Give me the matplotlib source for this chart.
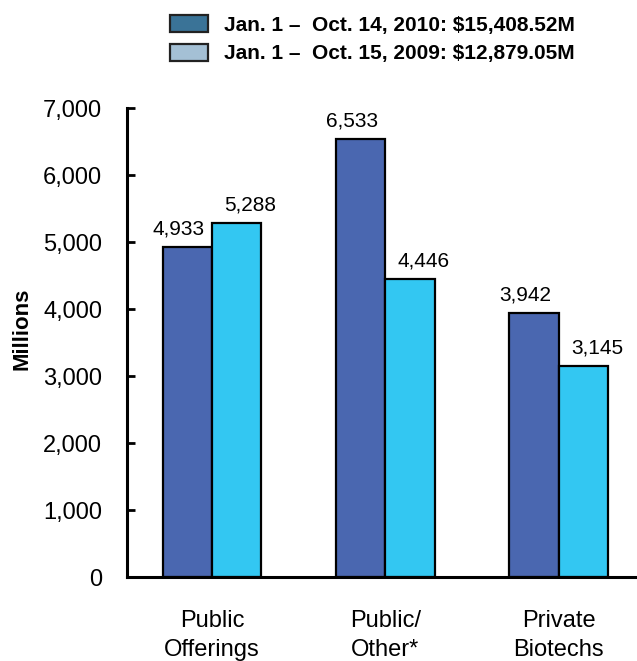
import matplotlib
matplotlib.use("Agg")
import matplotlib.pyplot as plt
from matplotlib.patches import Patch
import numpy as np

plt.rcParams['font.family'] = ['Liberation Sans', 'DejaVu Sans']

categories = ["Public\nOfferings", "Public/\nOther*", "Private\nBiotechs"]
values_2010 = [4933, 6533, 3942]
values_2009 = [5288, 4446, 3145]
labels_2010 = ["4,933", "6,533", "3,942"]
labels_2009 = ["5,288", "4,446", "3,145"]
legend_labels = ["Jan. 1 \u2013  Oct. 14, 2010: $15,408.52M",
                 "Jan. 1 \u2013  Oct. 15, 2009: $12,879.05M"]
yticks = [0, 1000, 2000, 3000, 4000, 5000, 6000, 7000]
ytick_labels = ["0", "1,000", "2,000", "3,000", "4,000", "5,000", "6,000", "7,000"]

fig = plt.figure(figsize=(6.37, 6.61), dpi=100)
ax = fig.add_axes([0.1994, 0.127, 0.80, 0.7096])

x = np.arange(len(categories))
w = 0.285
c1 = "#4a67b0"
c2 = "#33c7f2"
ax.bar(x - w/2, values_2010, w, color=c1, edgecolor="black", linewidth=1.6)
ax.bar(x + w/2, values_2009, w, color=c2, edgecolor="black", linewidth=1.6)

for xi, v, t in zip(x - w/2, values_2010, labels_2010):
    ax.annotate(t, (xi, v), xytext=(-6, 6), textcoords="offset points",
                ha="center", va="bottom", fontsize=15)
for xi, v, t in zip(x + w/2, values_2009, labels_2009):
    ax.annotate(t, (xi, v), xytext=(10, 6), textcoords="offset points",
                ha="center", va="bottom", fontsize=15)

ax.set_xlim(-0.49, 2.45)
ax.set_ylim(0, 7000)
ax.set_yticks(yticks)
ax.set_yticklabels(ytick_labels, fontsize=17)
ax.set_xticks(x)
ax.set_xticklabels(categories, fontsize=17, linespacing=1.36)
ax.tick_params(axis="x", length=0, pad=24)
ax.tick_params(axis="y", direction="in", length=6, width=2, pad=18)
for s in ["top", "right"]:
    ax.spines[s].set_visible(False)
for s in ["left", "bottom"]:
    ax.spines[s].set_linewidth(2.2)
ax.set_ylabel("Millions", fontsize=16, fontweight="bold")
ax.yaxis.set_label_coords(-0.186, 0.53)

handles = [Patch(facecolor="#3a7397", edgecolor="#222222", linewidth=1.6),
           Patch(facecolor="#a4c0d5", edgecolor="#222222", linewidth=1.6)]
fig.legend(handles, legend_labels, loc="upper left", bbox_to_anchor=(170/637, 1 - 15/661),
           frameon=False, prop={"weight": "bold", "size": 15},
           borderpad=0, borderaxespad=0,
           handlelength=1.8, handleheight=0.85, handletextpad=0.8, labelspacing=0.45)

fig.savefig("out.png", dpi=100)
